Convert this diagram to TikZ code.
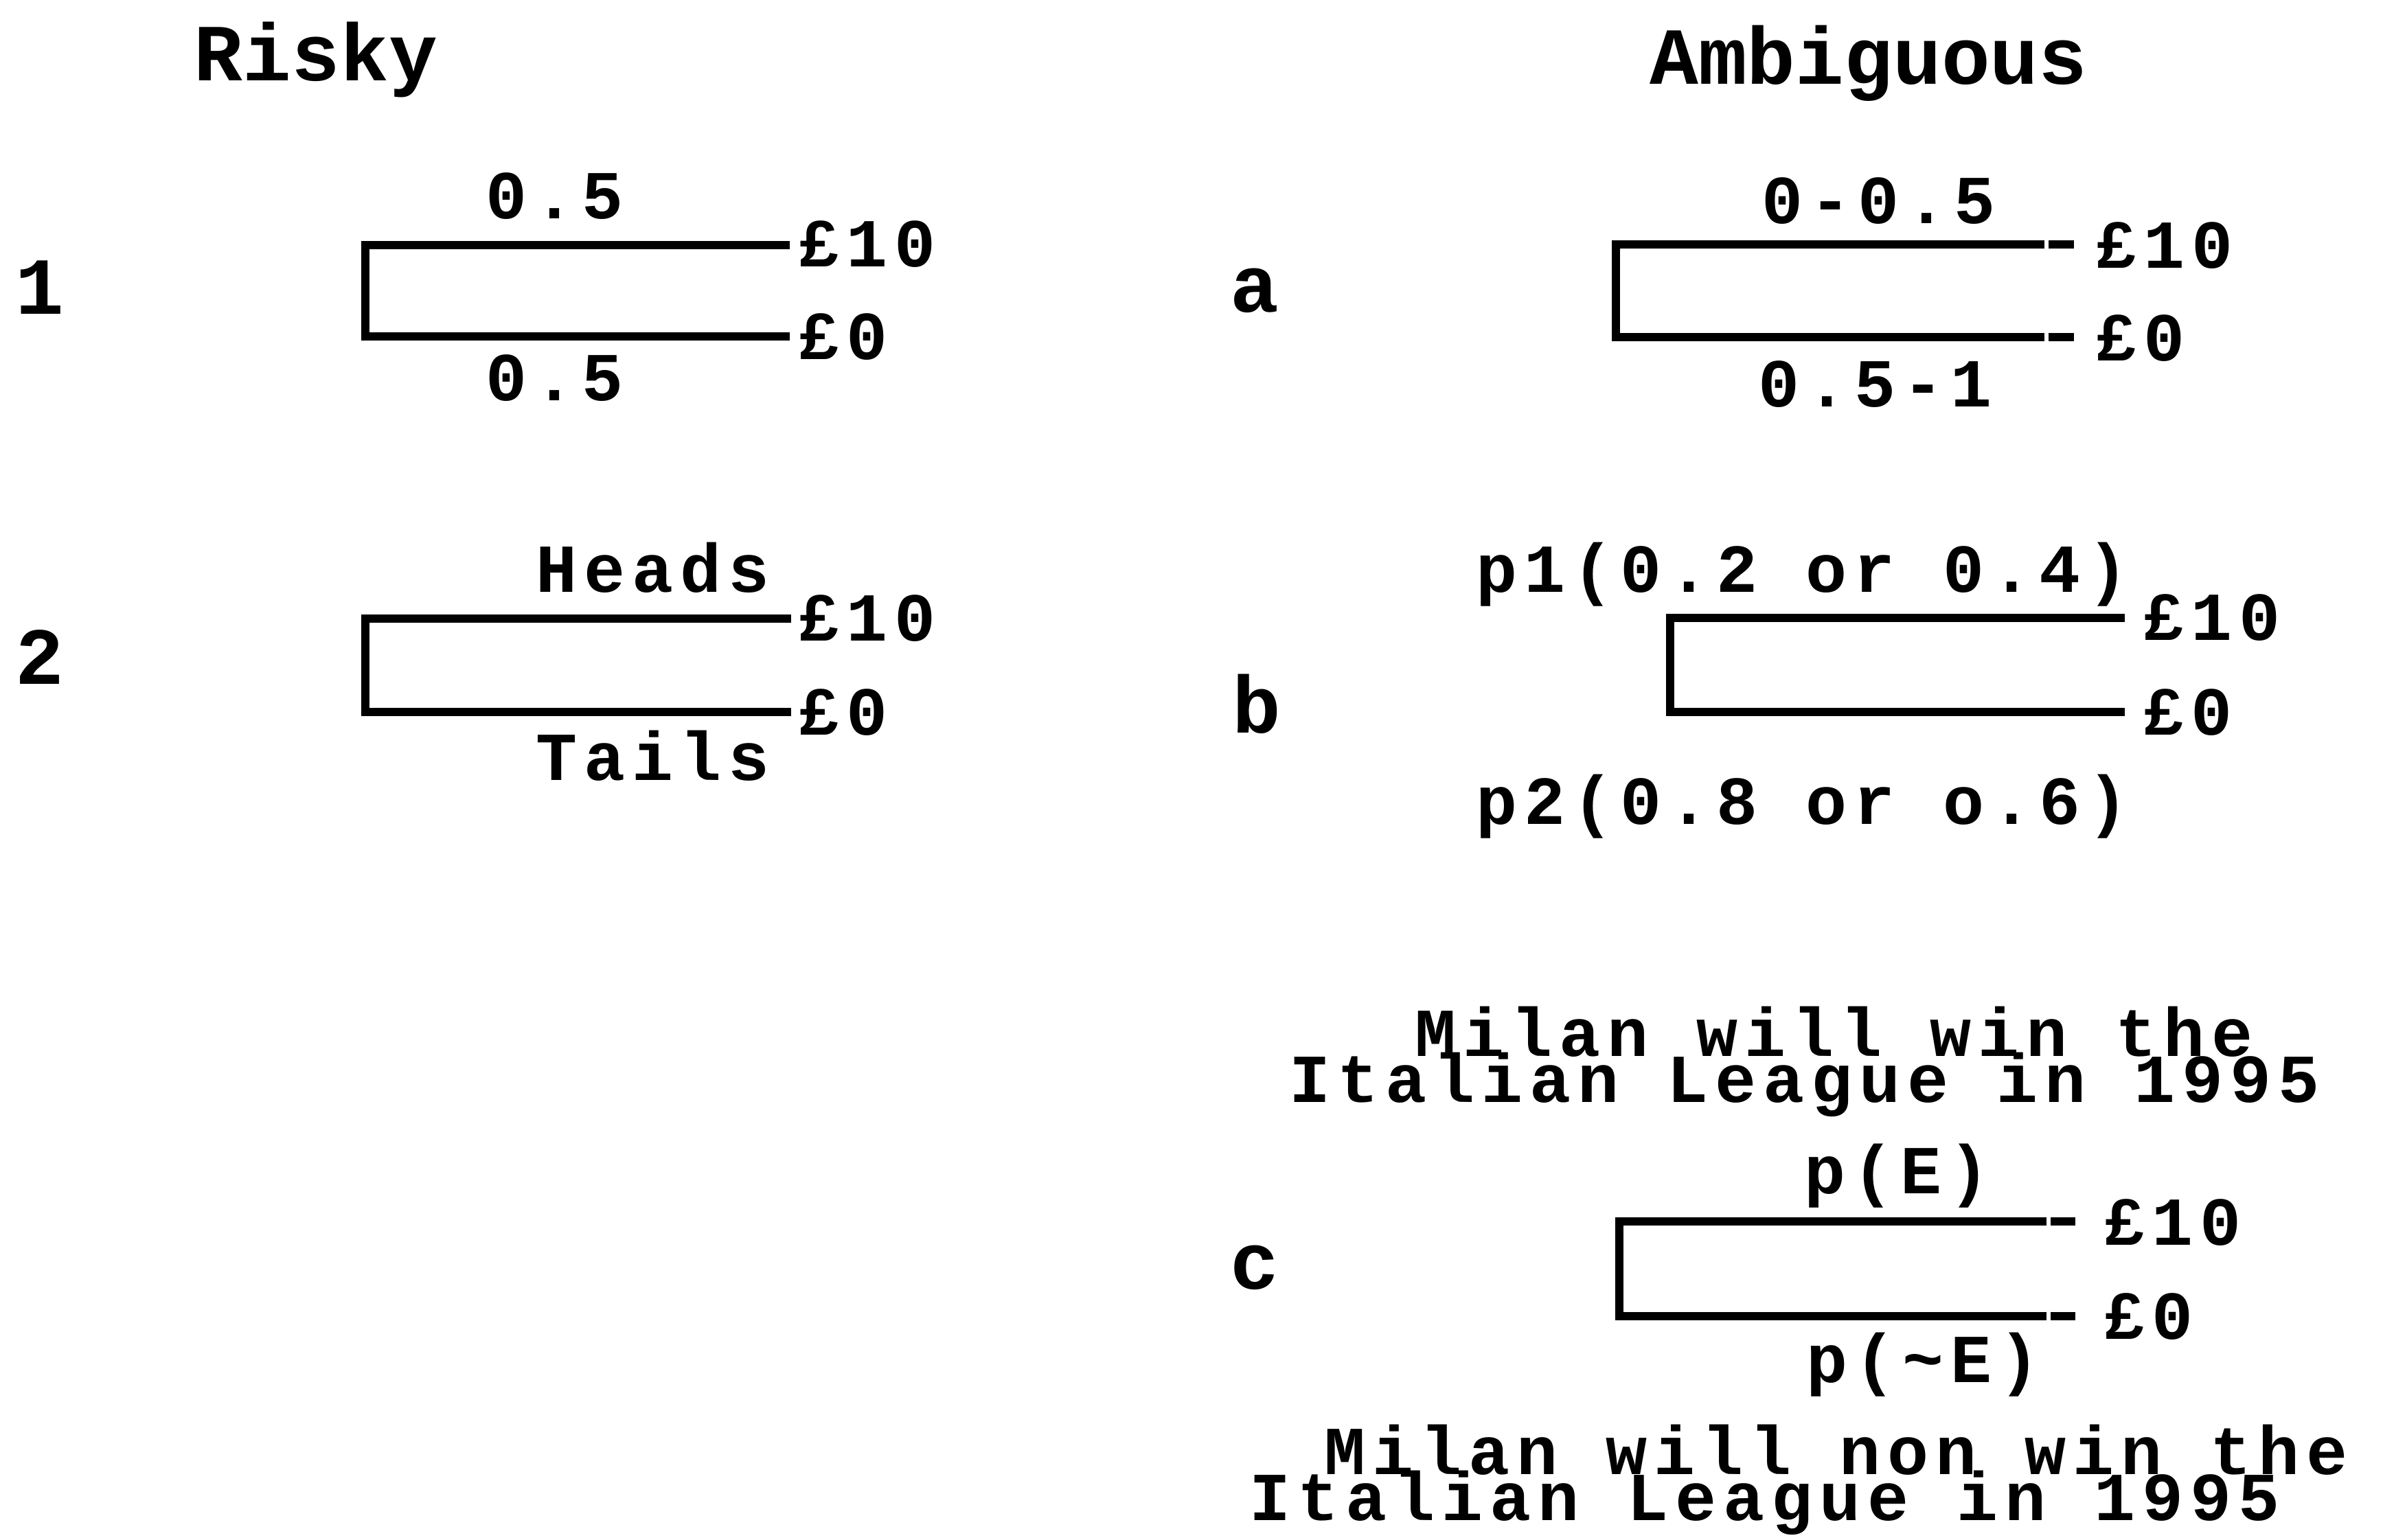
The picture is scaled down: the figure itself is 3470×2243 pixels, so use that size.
\documentclass[tikz,border=0pt]{standalone}
\usepackage{fontspec}
\newfontfamily\lblfont{Liberation Mono}[LetterSpace=10]
\newfontfamily\headfont{Liberation Mono}
% one two-branch lottery: name, left x, top y, bottom y, right x
\newcommand\lottery[5]{%
  \coordinate (#1-t)  at (#5,#3);
  \coordinate (#1-tl) at (#2,#3);
  \coordinate (#1-bl) at (#2,#4);
  \coordinate (#1-b)  at (#5,#4);
  \draw[branch] (#1-t) -- (#1-tl) -- (#1-bl) -- (#1-b);
}
% two lines of text, the first indented by #1; baseline is that of the first line
\newcommand\twolines[3]{%
  \vtop{\lineskiplimit=-1000pt\baselineskip=67pt
    \hbox{\hspace*{#1}#2}\hbox{#3}}}
\begin{document}
\begin{tikzpicture}[x=1pt,y=-1pt,
  branch/.style={line width=12pt, line join=miter},
  lbl/.style={font=\lblfont\bfseries\fontsize{100pt}{67pt}\selectfont, inner sep=0pt, anchor=base},
  head/.style={font=\headfont\bfseries\fontsize{118pt}{118pt}\selectfont, inner sep=0pt, anchor=base},
  prize/.style={lbl, anchor=base west},
  event/.style={lbl, anchor=base west},
]
\useasboundingbox (0,0) rectangle (3470,2243);

% column headings
\node[head] (hrisky) at (460,117) {Risky};
\node[head] (hamb)   at (2721,122) {Ambiguous};

% row labels
\node[head] (n1) at (58,457)   {1};
\node[head] (n2) at (58,996)   {2};
\node[head] (na) at (1827,454) {a};
\node[head] (nb) at (1830,1067) {b};
\node[head] (nc) at (1827,1877) {c};

% risky lottery 1
\lottery{r1}{532}{357}{490}{1150}
\node[lbl] (r1p) at (808,318) {0.5};
\node[lbl] (r1q) at (808,583) {0.5};
\node[prize] (r1w) at (1162,388) {£10};
\node[prize] (r1l) at (1162,523) {£0};

% risky lottery 2
\lottery{r2}{532}{901}{1037}{1152}
\node[lbl] (r2p) at (951,862)  {Heads};
\node[lbl] (r2q) at (951,1136) {Tails};
\node[prize] (r2w) at (1162,933)  {£10};
\node[prize] (r2l) at (1162,1070) {£0};

% ambiguous lottery a
\lottery{aa}{2353}{356}{491}{2977}
\coordinate (aa-t1) at (2983,356); \coordinate (aa-t2) at (3020,356);
\coordinate (aa-b1) at (2983,491); \coordinate (aa-b2) at (3020,491);
\draw[branch] (aa-t1) -- (aa-t2);
\draw[branch] (aa-b1) -- (aa-b2);
\node[lbl] (aap) at (2735,325) {0-0.5};
\node[lbl] (aaq) at (2730,592) {0.5-1};
\node[prize] (aaw) at (3051,390) {£10};
\node[prize] (aal) at (3051,525) {£0};

% ambiguous lottery b
\lottery{ab}{2432}{900}{1037}{3094}
\node[lbl] (abp) at (2625,862)  {p1(0.2 or 0.4)};
\node[lbl] (abq) at (2625,1200) {p2(0.8 or o.6)};
\node[prize] (abw) at (3120,932)  {£10};
\node[prize] (abl) at (3120,1070) {£0};

% ambiguous lottery c
\node[event] (cwin) at (1877,1538)
  {\twolines{183pt}{Milan will win the}{Italian League in 1995}};
\lottery{ac}{2358}{1779}{1917}{2980}
\coordinate (ac-t1) at (2986,1779); \coordinate (ac-t2) at (3022,1779);
\coordinate (ac-b1) at (2986,1917); \coordinate (ac-b2) at (3022,1917);
\draw[branch] (ac-t1) -- (ac-t2);
\draw[branch] (ac-b1) -- (ac-b2);
\node[lbl] (acp) at (2762,1738) {p(E)};
\node[lbl] (acq) at (2800,2013) {p(\textasciitilde E)};
\node[prize] (acw) at (3063,1813) {£10};
\node[prize] (acl) at (3063,1950) {£0};
\node[event] (cnot) at (1819,2147)
  {\twolines{109pt}{Milan will non win the}{Italian League in 1995}};
\end{tikzpicture}
\end{document}
